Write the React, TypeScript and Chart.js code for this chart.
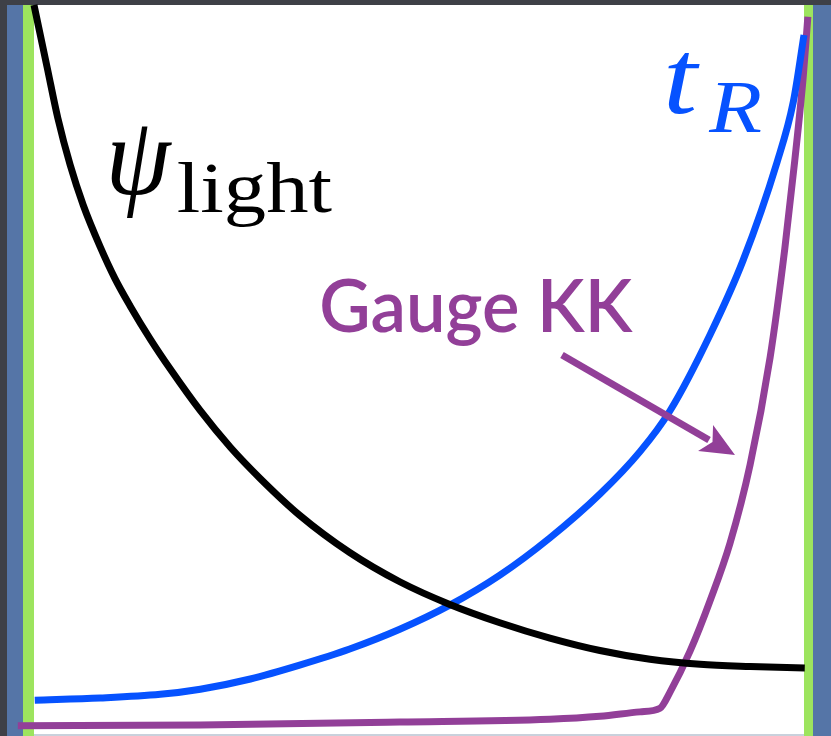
import React, { useEffect, useRef } from "react";
import { Chart, registerables } from "chart.js";

Chart.register(...registerables);

// Normalised position along the horizontal axis (0 = left wall, 1 = right wall)
// and normalised height (0 = bottom, 1 = top).
const psiLightX = [0, 0.017, 0.031, 0.047, 0.064, 0.086, 0.105, 0.125, 0.151, 0.177, 0.216, 0.255, 0.294, 0.345, 0.41, 0.475, 0.54, 0.605, 0.67, 0.735, 0.8, 0.865, 0.93, 1.001];
const psiLightY = [1.0, 0.915, 0.845, 0.781, 0.726, 0.669, 0.626, 0.588, 0.543, 0.502, 0.445, 0.395, 0.352, 0.302, 0.251, 0.211, 0.18, 0.155, 0.134, 0.117, 0.105, 0.098, 0.095, 0.093];

const tRX = [0.001, 0.086, 0.164, 0.216, 0.281, 0.345, 0.41, 0.475, 0.54, 0.605, 0.67, 0.735, 0.787, 0.826, 0.878, 0.921, 0.965, 0.986, 1.0];
const tRY = [0.049, 0.052, 0.057, 0.064, 0.078, 0.097, 0.119, 0.146, 0.179, 0.22, 0.271, 0.331, 0.389, 0.445, 0.549, 0.651, 0.785, 0.867, 0.959];

const gaugeKKX = [-0.021, 0.216, 0.475, 0.67, 0.735, 0.787, 0.813, 0.826, 0.852, 0.878, 0.904, 0.93, 0.956, 0.975, 0.988, 0.999, 1.005];
const gaugeKKY = [0.014, 0.015, 0.019, 0.023, 0.027, 0.033, 0.038, 0.06, 0.116, 0.185, 0.264, 0.371, 0.518, 0.666, 0.787, 0.902, 0.984];

const labelPsi = "ψ";
const labelPsiSub = "light";
const labelT = "t";
const labelTSub = "R";
const labelGauge = "Gauge KK";

const BLACK = "#000000";
const BLUE = "#0652ff";
const PURPLE = "#923f98";
const GREEN = "#9de45e";
const SLATE = "#5575a7";
const DARK = "#3e4047";

function pts(xs: number[], ys: number[]) {
  return xs.map((x, i) => ({ x, y: ys[i] }));
}

function drawFit(
  ctx: CanvasRenderingContext2D,
  text: string,
  font: string,
  color: string,
  left: number,
  top: number,
  right: number,
  bottom: number
) {
  ctx.save();
  ctx.font = font;
  ctx.textAlign = "left";
  ctx.textBaseline = "alphabetic";
  const m = ctx.measureText(text);
  const inkL = -m.actualBoundingBoxLeft;
  const inkR = m.actualBoundingBoxRight;
  const inkT = -m.actualBoundingBoxAscent;
  const inkB = m.actualBoundingBoxDescent;
  const sx = (right - left) / (inkR - inkL);
  const sy = (bottom - top) / (inkB - inkT);
  ctx.translate(left, top);
  ctx.scale(sx, sy);
  ctx.translate(-inkL, -inkT);
  ctx.fillStyle = color;
  ctx.fillText(text, 0, 0);
  ctx.restore();
}

const framePlugin = {
  id: "frame",
  beforeDraw(chart: any) {
    const ctx = chart.ctx as CanvasRenderingContext2D;
    const W = chart.width;
    const H = chart.height;
    const a = chart.chartArea;
    ctx.save();
    ctx.fillStyle = "#ffffff";
    ctx.fillRect(0, 0, W, H);
    ctx.fillStyle = "#c9d1dc";
    ctx.fillRect(0, H - 2, W, 2);
    ctx.fillStyle = DARK;
    ctx.fillRect(0, 0, 7, H);
    ctx.fillStyle = SLATE;
    ctx.fillRect(7, a.top, a.left - 11 - 7, H - a.top);
    ctx.fillStyle = GREEN;
    ctx.fillRect(a.left - 11, a.top, 11, H - a.top);
    ctx.fillStyle = GREEN;
    ctx.fillRect(a.right, a.top, 9, H - a.top);
    ctx.fillStyle = SLATE;
    ctx.fillRect(a.right + 9, a.top, W - a.right - 9, H - a.top);
    ctx.fillStyle = DARK;
    ctx.fillRect(0, 0, W, a.top);
    ctx.restore();
  },
};

const labelPlugin = {
  id: "labels",
  afterDatasetsDraw(chart: any) {
    const ctx = chart.ctx as CanvasRenderingContext2D;
    const serif = '"Liberation Serif", "DejaVu Serif", serif';
    drawFit(ctx, labelPsi, `italic 96px ${serif}`, BLACK, 111, 126, 172, 218);
    drawFit(ctx, labelPsiSub, `72px ${serif}`, BLACK, 178, 162, 332, 227);
    drawFit(ctx, labelT, `italic 100px ${serif}`, BLUE, 668, 54, 700, 114);
    drawFit(ctx, labelTSub, `italic 70px ${serif}`, BLUE, 708, 84, 761, 132);
    drawFit(ctx, labelGauge, `600 76px Lato, "Open Sans", sans-serif`, PURPLE, 322, 277, 633, 347);

    const sx = 562, sy = 355, tx = 735, ty = 455;
    const dx = tx - sx, dy = ty - sy;
    const len = Math.hypot(dx, dy);
    const ux = dx / len, uy = dy / len;
    const headLen = 34, headHalf = 15;
    const bx = tx - ux * headLen, by = ty - uy * headLen;
    ctx.save();
    ctx.strokeStyle = PURPLE;
    ctx.fillStyle = PURPLE;
    ctx.lineWidth = 7;
    ctx.lineCap = "butt";
    ctx.beginPath();
    ctx.moveTo(sx, sy);
    ctx.lineTo(bx + ux * 4, by + uy * 4);
    ctx.stroke();
    ctx.beginPath();
    ctx.moveTo(tx, ty);
    ctx.lineTo(bx - uy * headHalf, by + ux * headHalf);
    ctx.lineTo(bx + ux * 8, by + uy * 8);
    ctx.lineTo(bx + uy * headHalf, by - ux * headHalf);
    ctx.closePath();
    ctx.fill();
    ctx.restore();
  },
};

export default function App() {
  const ref = useRef<HTMLCanvasElement | null>(null);
  useEffect(() => {
    if (!ref.current) return;
    const common = {
      borderWidth: 7,
      showLine: true,
      pointRadius: 0,
      cubicInterpolationMode: "monotone" as const,
      clip: false as any,
      borderCapStyle: "butt" as const,
      borderJoinStyle: "round" as const,
    };
    const chart = new Chart(ref.current, {
      type: "scatter",
      data: {
        datasets: [
          { label: "psi_light", data: pts(psiLightX, psiLightY), borderColor: BLACK, ...common },
          { label: "t_R", data: pts(tRX, tRY), borderColor: BLUE, ...common },
          { label: "Gauge KK", data: pts(gaugeKKX, gaugeKKY), borderColor: PURPLE, ...common },
        ],
      },
      options: {
        responsive: false,
        animation: false,
        devicePixelRatio: 1,
        layout: { padding: { left: 34, right: 27, top: 5, bottom: 0 } },
        plugins: { legend: { display: false }, tooltip: { enabled: false } },
        scales: {
          x: { type: "linear", min: 0, max: 1, display: false },
          y: { type: "linear", min: 0, max: 1, display: false },
        },
      },
      plugins: [framePlugin, labelPlugin],
    });
    return () => chart.destroy();
  }, []);
  return (
    <div style={{ position: "absolute", left: 0, top: 0, width: 831, height: 736 }}>
      <canvas ref={ref} width={831} height={736} style={{ display: "block" }} />
    </div>
  );
}
